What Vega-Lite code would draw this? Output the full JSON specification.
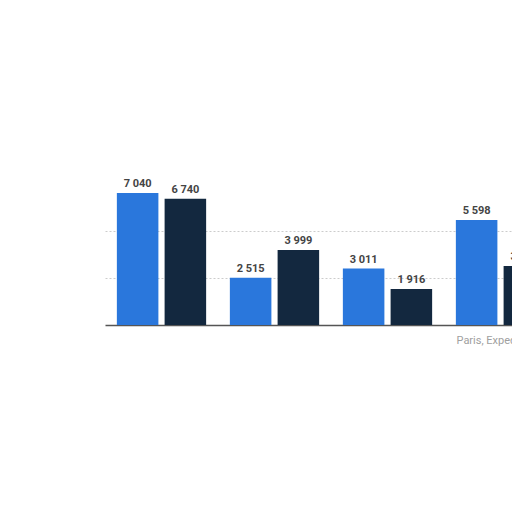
{
  "$schema": "https://vega.github.io/schema/vega-lite/v6.json",
  "autosize": "none",
  "width": 452,
  "height": 150,
  "padding": {"left": 105, "top": 175, "right": 0, "bottom": 60},
  "background": "white",
  "data": {
    "values": [
      {"group": "G1", "series": "A", "value": 7040},
      {"group": "G1", "series": "B", "value": 6740},
      {"group": "G2", "series": "A", "value": 2515},
      {"group": "G2", "series": "B", "value": 3999},
      {"group": "G3", "series": "A", "value": 3011},
      {"group": "G3", "series": "B", "value": 1916},
      {"group": "Paris, Expedia", "series": "A", "value": 5598},
      {"group": "Paris, Expedia", "series": "B", "value": 3150}
    ]
  },
  "encoding": {
    "x": {
      "field": "group",
      "type": "nominal",
      "sort": null,
      "title": null,
      "scale": {"paddingInner": 0.21, "paddingOuter": 0.105},
      "axis": {
        "labelAngle": 0,
        "labelExpr": "datum.label == 'Paris, Expedia' ? datum.label : ''",
        "labelColor": "#a0a0a0",
        "labelFont": "Roboto",
        "labelFontSize": 11,
        "labelAlign": "left",
        "labelOffset": -44,
        "labelPadding": 9,
        "labelBound": false,
        "labelOverlap": false,
        "domainColor": "#555555",
        "domainWidth": 1.5,
        "ticks": false
      }
    },
    "xOffset": {
      "field": "series",
      "type": "nominal",
      "scale": {"paddingInner": 0.13, "paddingOuter": 0}
    },
    "y": {
      "field": "value",
      "type": "quantitative",
      "scale": {"domain": [0, 8000]},
      "axis": {
        "title": null,
        "labels": false,
        "ticks": false,
        "domain": false,
        "values": [2500, 5000],
        "gridColor": "#cccccc",
        "gridDash": [2, 2]
      }
    }
  },
  "layer": [
    {
      "mark": {"type": "bar"},
      "encoding": {
        "color": {
          "field": "series",
          "type": "nominal",
          "scale": {"domain": ["A", "B"], "range": ["#2a77dc", "#13283f"]},
          "legend": null
        }
      }
    },
    {
      "mark": {
        "type": "text",
        "dy": -9,
        "font": "Roboto",
        "fontSize": 11,
        "fontWeight": "bold",
        "color": "#444444"
      },
      "encoding": {
        "text": {"field": "value", "type": "quantitative", "format": ",d"}
      }
    }
  ],
  "config": {
    "view": {"stroke": null},
    "locale": {"number": {"decimal": ",", "thousands": " ", "grouping": [3], "currency": ["", ""]}}
  }
}
